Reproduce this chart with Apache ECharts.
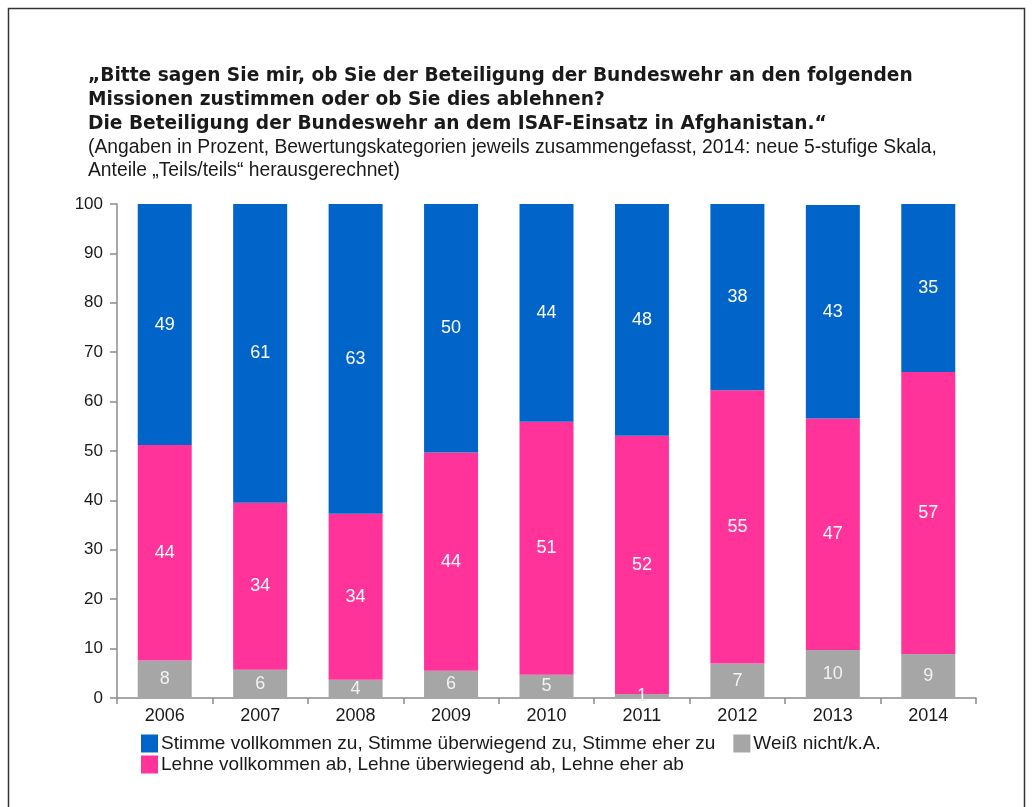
<!DOCTYPE html>
<html>
<head>
<meta charset="utf-8">
<script src="https://cdn.jsdelivr.net/npm/echarts@6/dist/echarts.min.js"></script>
<style>
html,body{margin:0;padding:0;background:#fff;}
#chart{width:1034px;height:807px;}
</style>
</head>
<body>
<div id="chart"></div>
<script>
// Data (labels show rounded values)
const years = ['2006','2007','2008','2009','2010','2011','2012','2013','2014'];
const weissNicht = [7.6, 5.7, 3.7, 5.5, 4.7, 0.8, 7.0, 9.7, 8.9];
const lehneAb = [43.6, 33.8, 33.6, 44.2, 51.2, 52.3, 55.3, 46.9, 57.1];
const stimmeZu = [48.8, 60.6, 62.7, 50.3, 44.1, 47.5, 37.7, 43.2, 34.6];
const yTicks = [0, 10, 20, 30, 40, 50, 60, 70, 80, 90, 100];

const nameStimme = 'Stimme vollkommen zu, Stimme überwiegend zu, Stimme eher zu';
const nameLehne = 'Lehne vollkommen ab, Lehne überwiegend ab, Lehne eher ab';
const nameWeiss = 'Weiß nicht/k.A.';

const titleText = '„Bitte sagen Sie mir, ob Sie der Beteiligung der Bundeswehr an den folgenden\nMissionen zustimmen oder ob Sie dies ablehnen?\nDie Beteiligung der Bundeswehr an dem ISAF-Einsatz in Afghanistan.“';
const subText = '(Angaben in Prozent, Bewertungskategorien jeweils zusammengefasst, 2014: neue 5-stufige Skala,\nAnteile „Teils/teils“ herausgerechnet)';

const FONT = '"Liberation Sans", Arial, sans-serif';
const chart = echarts.init(document.getElementById('chart'), null, {renderer: 'canvas'});

const labelCfg = {
  show: true,
  position: 'inside',
  color: '#ffffff',
  fontFamily: FONT,
  fontSize: 18,
  formatter: p => String(Math.round(p.value))
};

chart.setOption({
  animation: false,
  backgroundColor: '#ffffff',
  title: [
    {
      text: titleText,
      left: 83, top: 59,
      textStyle: {fontFamily: '"DejaVu Sans", sans-serif', fontSize: 18.6, fontWeight: 'bold', color: '#1a1a1a', lineHeight: 24}
    },
    {
      text: subText,
      left: 83, top: 131,
      textStyle: {fontFamily: FONT, fontSize: 19.3, fontWeight: 'normal', color: '#1a1a1a', lineHeight: 23}
    }
  ],
  graphic: [{
    type: 'rect',
    shape: {x: 8.5, y: 8.5, width: 1016, height: 830},
    style: {fill: 'none', stroke: '#333333', lineWidth: 1.5},
    silent: true
  }],
  legend: [
    {
      data: [nameStimme, nameWeiss],
      left: 136, top: 729,
      itemWidth: 17, itemHeight: 18, itemGap: 18,
      icon: 'rect',
      textStyle: {fontFamily: FONT, fontSize: 19, color: '#1a1a1a', padding: [0, 0, 0, -2]},
      selectedMode: false
    },
    {
      data: [nameLehne],
      left: 136, top: 750,
      itemWidth: 17, itemHeight: 18,
      icon: 'rect',
      textStyle: {fontFamily: FONT, fontSize: 19, color: '#1a1a1a', padding: [0, 0, 0, -2]},
      selectedMode: false
    }
  ],
  grid: {left: 117, right: 58, top: 204, bottom: 109, containLabel: false},
  xAxis: {
    type: 'category',
    data: years,
    axisLine: {show: true, lineStyle: {color: '#8c8c8c', width: 1.5}},
    axisTick: {show: true, alignWithLabel: false, length: 6, lineStyle: {color: '#8c8c8c', width: 1.5}},
    axisLabel: {fontFamily: FONT, fontSize: 18, color: '#1a1a1a', margin: 9}
  },
  yAxis: {
    type: 'value',
    min: yTicks[0], max: yTicks[yTicks.length - 1], interval: yTicks[1] - yTicks[0],
    axisLine: {show: true, lineStyle: {color: '#8c8c8c', width: 1.5}},
    axisTick: {show: true, inside: false, length: 7, lineStyle: {color: '#8c8c8c', width: 1.5}},
    axisLabel: {fontFamily: FONT, fontSize: 17, color: '#1a1a1a', margin: 14},
    splitLine: {show: false}
  },
  series: [
    {name: nameWeiss, type: 'bar', stack: 'a', data: weissNicht, barWidth: 54,
     itemStyle: {color: '#a6a6a6'}, label: Object.assign({}, labelCfg, {color: '#f2f2f2'})},
    {name: nameLehne, type: 'bar', stack: 'a', data: lehneAb, barWidth: 54,
     itemStyle: {color: '#ff3399'}, label: labelCfg},
    {name: nameStimme, type: 'bar', stack: 'a', data: stimmeZu, barWidth: 54,
     itemStyle: {color: '#0064c8'}, label: labelCfg}
  ]
});
</script>
</body>
</html>
